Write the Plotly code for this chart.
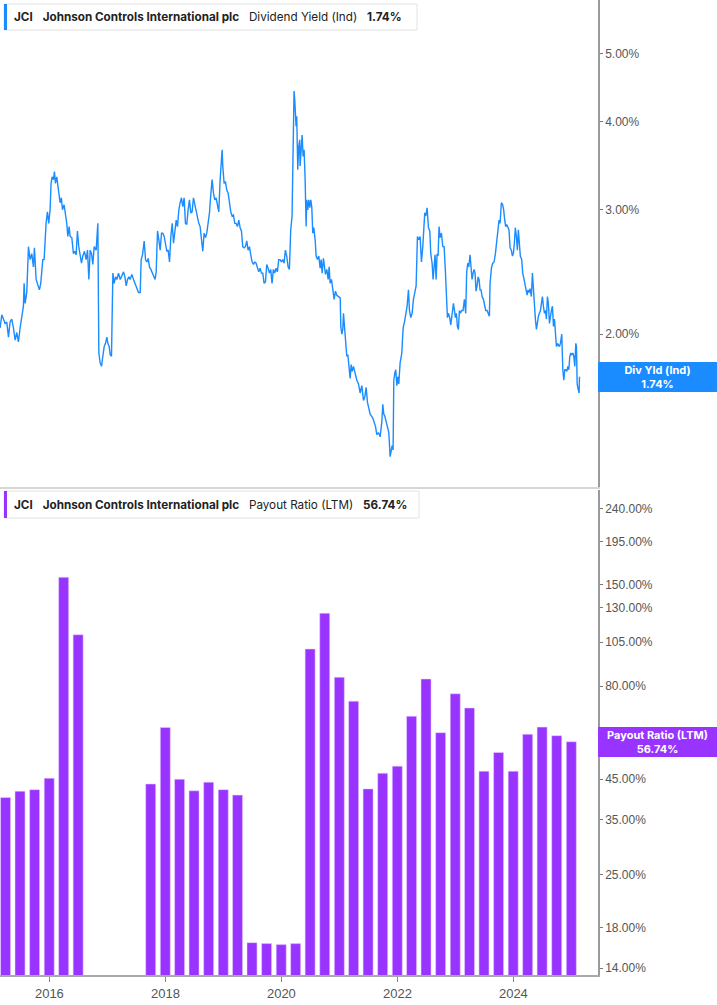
import numpy as np
import pandas as pd
import plotly.graph_objects as go

# ---------------- data ----------------
ticker = "JCI"
company = "Johnson Controls International plc"
yield_name = "Dividend Yield (Ind)"
payout_name = "Payout Ratio (LTM)"
current_yield = 1.74
current_payout = 56.74

yield_years = [
    2015.150, 2015.179, 2015.207, 2015.236, 2015.265, 2015.294, 2015.322, 2015.351, 2015.380, 2015.409,
    2015.437, 2015.466, 2015.495, 2015.524, 2015.552, 2015.564, 2015.581, 2015.610, 2015.639, 2015.667,
    2015.696, 2015.725, 2015.742, 2015.771, 2015.794, 2015.828, 2015.851, 2015.886, 2015.909, 2015.926,
    2015.943, 2015.966, 2015.989, 2016.012, 2016.029, 2016.047, 2016.070, 2016.087, 2016.104, 2016.127,
    2016.144, 2016.161, 2016.184, 2016.207, 2016.225, 2016.253, 2016.276, 2016.299, 2016.317, 2016.340,
    2016.357, 2016.386, 2016.414, 2016.437, 2016.460, 2016.483, 2016.506, 2016.529, 2016.552, 2016.575,
    2016.604, 2016.633, 2016.656, 2016.679, 2016.702, 2016.725, 2016.748, 2016.771, 2016.805, 2016.834,
    2016.851, 2016.874, 2016.897, 2016.920, 2016.943, 2016.966, 2016.989, 2017.006, 2017.029, 2017.046,
    2017.069, 2017.081, 2017.093, 2017.115, 2017.139, 2017.162, 2017.190, 2017.219, 2017.242, 2017.277,
    2017.300, 2017.323, 2017.346, 2017.368, 2017.391, 2017.420, 2017.449, 2017.478, 2017.506, 2017.535,
    2017.564, 2017.581, 2017.604, 2017.633, 2017.656, 2017.679, 2017.702, 2017.724, 2017.748, 2017.771,
    2017.794, 2017.822, 2017.840, 2017.863, 2017.886, 2017.909, 2017.932, 2017.955, 2017.978, 2018.001,
    2018.024, 2018.047, 2018.070, 2018.093, 2018.116, 2018.139, 2018.162, 2018.185, 2018.208, 2018.231,
    2018.254, 2018.276, 2018.299, 2018.322, 2018.345, 2018.368, 2018.391, 2018.414, 2018.437, 2018.460,
    2018.483, 2018.506, 2018.529, 2018.552, 2018.575, 2018.598, 2018.621, 2018.644, 2018.667, 2018.690,
    2018.713, 2018.736, 2018.759, 2018.782, 2018.805, 2018.828, 2018.851, 2018.874, 2018.897, 2018.920,
    2018.943, 2018.966, 2018.978, 2018.989, 2019.012, 2019.035, 2019.058, 2019.081, 2019.104, 2019.127,
    2019.150, 2019.173, 2019.196, 2019.219, 2019.242, 2019.265, 2019.288, 2019.311, 2019.334, 2019.357,
    2019.380, 2019.403, 2019.426, 2019.449, 2019.472, 2019.495, 2019.518, 2019.541, 2019.564, 2019.587,
    2019.610, 2019.633, 2019.656, 2019.679, 2019.702, 2019.725, 2019.748, 2019.771, 2019.793, 2019.816,
    2019.839, 2019.862, 2019.885, 2019.908, 2019.931, 2019.954, 2019.977, 2020.000, 2020.023, 2020.046,
    2020.069, 2020.092, 2020.115, 2020.138, 2020.161, 2020.184, 2020.195, 2020.218, 2020.230, 2020.241,
    2020.253, 2020.264, 2020.282, 2020.299, 2020.316, 2020.322, 2020.340, 2020.357, 2020.374, 2020.391,
    2020.409, 2020.426, 2020.437, 2020.454, 2020.472, 2020.489, 2020.506, 2020.523, 2020.540, 2020.558,
    2020.581, 2020.598, 2020.621, 2020.644, 2020.667, 2020.684, 2020.701, 2020.724, 2020.742, 2020.759,
    2020.782, 2020.805, 2020.822, 2020.839, 2020.862, 2020.885, 2020.908, 2020.931, 2020.954, 2020.983,
    2021.012, 2021.023, 2021.040, 2021.057, 2021.069, 2021.086, 2021.103, 2021.126, 2021.144, 2021.161,
    2021.184, 2021.201, 2021.218, 2021.241, 2021.270, 2021.299, 2021.328, 2021.356, 2021.385, 2021.414,
    2021.437, 2021.460, 2021.483, 2021.506, 2021.529, 2021.552, 2021.575, 2021.598, 2021.621, 2021.644,
    2021.672, 2021.701, 2021.730, 2021.747, 2021.764, 2021.782, 2021.805, 2021.828, 2021.851, 2021.874,
    2021.891, 2021.908, 2021.925, 2021.937, 2021.954, 2021.971, 2021.989, 2022.006, 2022.023, 2022.046,
    2022.075, 2022.098, 2022.121, 2022.144, 2022.167, 2022.190, 2022.207, 2022.230, 2022.253, 2022.276,
    2022.299, 2022.322, 2022.345, 2022.368, 2022.391, 2022.414, 2022.437, 2022.454, 2022.471, 2022.489,
    2022.512, 2022.535, 2022.558, 2022.575, 2022.598, 2022.615, 2022.632, 2022.649, 2022.667, 2022.684,
    2022.701, 2022.718, 2022.736, 2022.759, 2022.782, 2022.805, 2022.828, 2022.845, 2022.862, 2022.879,
    2022.902, 2022.920, 2022.943, 2022.966, 2022.983, 2023.000, 2023.017, 2023.034, 2023.052, 2023.069,
    2023.086, 2023.109, 2023.132, 2023.155, 2023.178, 2023.195, 2023.213, 2023.230, 2023.253, 2023.270,
    2023.287, 2023.305, 2023.322, 2023.339, 2023.356, 2023.374, 2023.391, 2023.408, 2023.425, 2023.443,
    2023.460, 2023.483, 2023.500, 2023.523, 2023.546, 2023.569, 2023.586, 2023.598, 2023.621, 2023.644,
    2023.667, 2023.690, 2023.713, 2023.736, 2023.753, 2023.770, 2023.793, 2023.816, 2023.833, 2023.851,
    2023.868, 2023.885, 2023.902, 2023.925, 2023.943, 2023.966, 2023.983, 2024.000, 2024.017, 2024.034,
    2024.052, 2024.069, 2024.086, 2024.103, 2024.120, 2024.144, 2024.161, 2024.184, 2024.201, 2024.218,
    2024.236, 2024.253, 2024.270, 2024.287, 2024.310, 2024.328, 2024.345, 2024.362, 2024.379, 2024.397,
    2024.414, 2024.431, 2024.448, 2024.466, 2024.483, 2024.500, 2024.517, 2024.535, 2024.552, 2024.569,
    2024.586, 2024.603, 2024.621, 2024.638, 2024.655, 2024.672, 2024.690, 2024.707, 2024.724, 2024.741,
    2024.759, 2024.776, 2024.793, 2024.810, 2024.833, 2024.851, 2024.868, 2024.885, 2024.902, 2024.920,
    2024.937, 2024.954, 2024.971, 2024.989, 2025.006, 2025.023, 2025.040, 2025.057, 2025.075, 2025.086,
    2025.098, 2025.115, 2025.132, 2025.138,
]

yield_vals = [
    2.04, 2.13, 2.10, 2.07, 2.08, 1.98, 2.08, 2.10, 2.04, 1.96,
    2.01, 1.95, 2.04, 2.12, 2.19, 2.36, 2.21, 2.29, 2.66, 2.55,
    2.60, 2.49, 2.65, 2.39, 2.35, 2.31, 2.36, 2.55, 2.55, 2.72,
    2.87, 2.98, 2.87, 3.00, 3.27, 3.34, 3.31, 3.40, 3.27, 3.34,
    3.24, 3.17, 3.07, 3.12, 3.00, 3.05, 2.97, 2.87, 2.75, 2.84,
    2.75, 2.74, 2.60, 2.62, 2.59, 2.80, 2.66, 2.60, 2.52, 2.58,
    2.62, 2.55, 2.63, 2.39, 2.63, 2.60, 2.51, 2.66, 2.63, 2.87,
    1.88, 1.82, 1.80, 1.86, 1.92, 1.94, 1.98, 1.94, 1.92, 1.87,
    1.86, 2.14, 2.44, 2.36, 2.41, 2.39, 2.44, 2.39, 2.41, 2.45,
    2.41, 2.34, 2.39, 2.41, 2.39, 2.43, 2.39, 2.36, 2.32, 2.29,
    2.29, 2.55, 2.59, 2.71, 2.55, 2.53, 2.56, 2.49, 2.47, 2.44,
    2.41, 2.39, 2.45, 2.80, 2.72, 2.63, 2.78, 2.78, 2.75, 2.66,
    2.62, 2.63, 2.53, 2.75, 2.87, 2.69, 2.78, 2.90, 2.84, 3.00,
    3.07, 3.12, 3.03, 3.12, 2.87, 2.86, 3.00, 3.10, 2.97, 2.98,
    3.12, 3.05, 2.98, 2.95, 2.87, 2.84, 2.75, 2.62, 2.78, 2.74,
    2.78, 2.87, 2.97, 3.15, 3.31, 3.17, 3.10, 3.12, 3.03, 2.98,
    3.31, 3.49, 3.65, 3.46, 3.27, 3.29, 3.20, 3.17, 3.07, 2.98,
    2.94, 2.95, 2.87, 2.87, 2.84, 2.90, 2.83, 2.80, 2.66, 2.65,
    2.66, 2.71, 2.63, 2.66, 2.59, 2.53, 2.51, 2.53, 2.52, 2.49,
    2.45, 2.48, 2.44, 2.44, 2.36, 2.37, 2.51, 2.48, 2.44, 2.47,
    2.36, 2.47, 2.44, 2.48, 2.45, 2.55, 2.55, 2.53, 2.55, 2.52,
    2.63, 2.58, 2.49, 2.47, 2.81, 2.94, 3.42, 4.42, 4.30, 4.11,
    3.94, 4.07, 3.42, 3.69, 3.77, 3.46, 3.73, 3.83, 3.57, 3.65,
    3.31, 2.84, 3.10, 3.00, 3.10, 3.02, 3.10, 3.03, 2.78, 2.83,
    2.72, 2.58, 2.55, 2.58, 2.48, 2.55, 2.44, 2.56, 2.49, 2.43,
    2.47, 2.39, 2.49, 2.36, 2.39, 2.29, 2.24, 2.30, 2.27, 2.26,
    2.25, 2.05, 2.00, 2.03, 2.14, 2.05, 1.96, 1.86, 1.87, 1.80,
    1.73, 1.81, 1.77, 1.80, 1.76, 1.72, 1.70, 1.65, 1.69, 1.61,
    1.63, 1.68, 1.60, 1.57, 1.54, 1.53, 1.52, 1.50, 1.48, 1.44,
    1.45, 1.43, 1.50, 1.59, 1.54, 1.53, 1.50, 1.47, 1.45, 1.34,
    1.37, 1.39, 1.37, 1.72, 1.76, 1.78, 1.69, 1.74, 1.70, 1.82,
    1.88, 2.04, 2.08, 2.15, 2.19, 2.31, 2.16, 2.11, 2.14, 2.24,
    2.29, 2.34, 2.75, 2.72, 2.75, 2.53, 2.66, 2.87, 2.97, 2.94,
    3.02, 2.83, 2.80, 2.60, 2.52, 2.39, 2.55, 2.59, 2.39, 2.60,
    2.58, 2.84, 2.74, 2.78, 2.66, 2.66, 2.45, 2.19, 2.11, 2.14,
    2.11, 2.06, 2.14, 2.21, 2.16, 2.11, 2.14, 2.05, 2.03, 2.16,
    2.14, 2.16, 2.16, 2.24, 2.14, 2.45, 2.52, 2.49, 2.59, 2.49,
    2.39, 2.44, 2.47, 2.44, 2.30, 2.34, 2.41, 2.39, 2.31, 2.31,
    2.26, 2.24, 2.19, 2.16, 2.16, 2.14, 2.12, 2.36, 2.48, 2.52,
    2.53, 2.60, 2.69, 2.78, 2.90, 2.87, 3.07, 3.05, 3.00, 2.90,
    2.84, 2.86, 2.84, 2.81, 2.65, 2.63, 2.58, 2.60, 2.69, 2.83,
    2.75, 2.63, 2.81, 2.72, 2.58, 2.55, 2.44, 2.39, 2.34, 2.31,
    2.27, 2.31, 2.29, 2.32, 2.26, 2.44, 2.29, 2.16, 2.10, 2.03,
    2.10, 2.12, 2.14, 2.16, 2.21, 2.26, 2.19, 2.14, 2.16, 2.10,
    2.26, 2.21, 2.07, 2.14, 2.16, 2.19, 2.05, 2.10, 1.98, 1.92,
    1.94, 1.93, 1.92, 1.94, 2.00, 1.78, 1.72, 1.78, 1.78, 1.77,
    1.80, 1.78, 1.86, 1.88, 1.87, 1.88, 1.86, 1.80, 1.94, 1.92,
    1.70, 1.67, 1.65, 1.74,
]

payout_quarters = [
    "2015-03-31", "2015-06-30", "2015-09-30", "2015-12-31", "2016-03-31", "2016-06-30",
    "2017-09-30", "2017-12-31",
    "2018-03-31", "2018-06-30", "2018-09-30", "2018-12-31",
    "2019-03-31", "2019-06-30", "2019-09-30", "2019-12-31",
    "2020-03-31", "2020-06-30", "2020-09-30", "2020-12-31",
    "2021-03-31", "2021-06-30", "2021-09-30", "2021-12-31",
    "2022-03-31", "2022-06-30", "2022-09-30", "2022-12-31",
    "2023-03-31", "2023-06-30", "2023-09-30", "2023-12-31",
    "2024-03-31", "2024-06-30", "2024-09-30", "2024-12-31",
]
payout_vals = [
    40.2, 41.8, 42.2, 45.3, 156.7, 109.9,
    43.7, 62.0,
    45.0, 41.9, 44.2, 42.2,
    40.8, 16.4, 16.3, 16.2,
    16.3, 100.6, 125.5, 84.5,
    72.9, 42.4, 46.7, 48.8,
    66.4, 83.6, 60.0, 76.3,
    69.9, 47.3, 53.1, 47.3,
    59.4, 62.1, 58.9, 56.74,
]

year_ticks = ["2016", "2018", "2020", "2022", "2024"]
yield_ticks = [2, 3, 4, 5]
payout_ticks = [14, 18, 25, 35, 45, 55, 80, 105, 130, 150, 195, 240]


def frac_year_to_ts(y):
    yr = int(y)
    start = pd.Timestamp(yr, 1, 1)
    end = pd.Timestamp(yr + 1, 1, 1)
    return start + (end - start) * (y - yr)


yield_dates = [frac_year_to_ts(y) for y in yield_years]
payout_dates = pd.to_datetime(payout_quarters)

# ---------------- styling / layout ----------------
BLUE = "#1A8CFF"
PURPLE = "#9933FF"
W, H = 717, 1005
ML, MR, MT, MB = 0, 119, 0, 30
PW = W - ML - MR
PH = H - MT - MB


def px(x):
    return x / PW


def py(y):
    return (PH - y) / PH


XRANGE = ["2015-02-24", "2025-06-17"]
TICKFONT = dict(family="Liberation Sans, Arial, sans-serif", size=12, color="#555555")

fig = go.Figure()
fig.add_trace(go.Scatter(
    x=yield_dates, y=yield_vals, mode="lines",
    line=dict(color=BLUE, width=1.4), xaxis="x", yaxis="y",
    hoverinfo="skip", showlegend=False,
))
fig.add_trace(go.Bar(
    x=payout_dates, y=payout_vals,
    marker=dict(color=PURPLE, line=dict(width=0.6, color="rgba(230,210,255,0.9)")),
    width=63 * 86400000, xaxis="x2", yaxis="y2",
    hoverinfo="skip", showlegend=False,
))

fig.update_layout(
    width=W, height=H,
    margin=dict(l=ML, r=MR, t=MT, b=MB),
    paper_bgcolor="white", plot_bgcolor="white",
    showlegend=False,
    xaxis=dict(
        domain=[0, 1], anchor="y", type="date", range=XRANGE,
        showticklabels=False, showgrid=False, zeroline=False,
        showline=True, linecolor="#d6d6d6", linewidth=2, ticks="",
        matches="x2",
    ),
    yaxis=dict(
        domain=[py(487), 1], anchor="x", side="right", type="log",
        range=[np.log10(1.214), np.log10(5.95)],
        tickvals=yield_ticks, ticktext=[f"{v:.2f}%" for v in yield_ticks],
        showgrid=False, zeroline=False,
        showline=True, linecolor="#9a9a9a", linewidth=1.5,
        ticks="outside", ticklen=3, tickcolor="#777777", tickwidth=1,
        tickfont=TICKFONT,
    ),
    xaxis2=dict(
        domain=[0, 1], anchor="y2", type="date", range=XRANGE,
        tickvals=[f"{y}-01-01" for y in year_ticks], ticktext=year_ticks,
        showgrid=False, zeroline=False,
        showline=True, linecolor="#aaaaaa", linewidth=2,
        ticks="outside", ticklen=5, tickcolor="#888888", tickwidth=1,
        tickfont=dict(family="Liberation Sans, Arial, sans-serif", size=13, color="#555555"),
    ),
    yaxis2=dict(
        domain=[0, py(490)], anchor="x2", side="right", type="log",
        range=[1.128, 2.4293],
        tickvals=payout_ticks, ticktext=[f"{v:.2f}%" for v in payout_ticks],
        showgrid=False, zeroline=False,
        showline=True, linecolor="#9a9a9a", linewidth=1.5,
        ticks="outside", ticklen=3, tickcolor="#777777", tickwidth=1,
        tickfont=TICKFONT,
    ),
)
fig.update_xaxes(tickprefix="<b>", ticksuffix="</b>", selector=dict(anchor="y2"))

NB = "\u00a0"
LEGFONT = dict(family="Inter, Noto Sans, sans-serif", size=11.7, color="#222222")


def header(text_value, name, color, y_top, y_bot, x_right):
    fig.add_shape(type="rect", xref="paper", yref="paper",
                  x0=px(4), x1=px(x_right), y0=py(y_bot), y1=py(y_top),
                  fillcolor="white", line=dict(color="#e2e2e2", width=1), layer="above")
    fig.add_shape(type="rect", xref="paper", yref="paper",
                  x0=px(4), x1=px(7), y0=py(y_bot), y1=py(y_top),
                  fillcolor=color, line=dict(width=0), layer="above")
    txt = (f"<b>{ticker}</b>" + NB * 3 + f"<b>{company}</b>" + NB * 3 + name
           + NB * 3 + f"<b>{text_value}</b>")
    fig.add_annotation(xref="paper", yref="paper", x=px(12), y=py((y_top + y_bot) / 2),
                       xanchor="left", yanchor="middle", text=txt, showarrow=False,
                       font=LEGFONT)


header(f"{current_yield:.2f}%", yield_name, BLUE, 4, 30, 417)
header(f"{current_payout:.2f}%", payout_name, PURPLE, 491, 518, 419)

LABFONT = dict(family="Inter, Noto Sans, sans-serif", size=11, color="white")
fig.add_annotation(xref="paper", yref="y", x=1, y=np.log10(current_yield),
                   xanchor="left", yanchor="middle", showarrow=False,
                   text=f"<b>Div Yld (Ind)</b><br><b>{current_yield:.2f}%</b>",
                   bgcolor=BLUE, width=115, height=26, borderpad=1, borderwidth=1,
                   bordercolor=BLUE, font=LABFONT, align="center")
fig.add_annotation(xref="paper", yref="y2", x=1, y=np.log10(current_payout),
                   xanchor="left", yanchor="middle", showarrow=False,
                   text=f"<b>{payout_name}</b><br><b>{current_payout:.2f}%</b>",
                   bgcolor=PURPLE, width=115, height=26, borderpad=1, borderwidth=1,
                   bordercolor=PURPLE, font=LABFONT, align="center")

fig.write_html(
    "out.html",
    config={"displayModeBar": False},
    post_script="document.body.style.margin='0';document.body.style.overflow='hidden';",
)
